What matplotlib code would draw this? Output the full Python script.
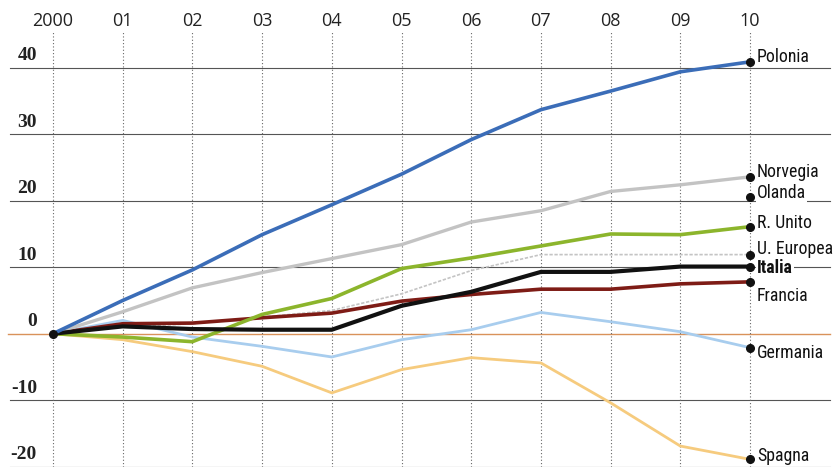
import matplotlib
matplotlib.use("Agg")
import matplotlib.pyplot as plt
import numpy as np

years = list(range(0, 11))
year_labels = ["2000", "01", "02", "03", "04", "05", "06", "07", "08", "09", "10"]
y_ticks = [40, 30, 20, 10, 0, -10, -20]

polonia = [0, 5.0, 9.6, 14.9, 19.4, 24.0, 29.2, 33.7, 36.5, 39.4, 40.9]
norvegia = [0, 3.3, 6.9, 9.2, 11.3, 13.4, 16.8, 18.5, 21.4, 22.4, 23.6]
olanda_end = 20.6
r_unito = [0, -0.5, -1.2, 2.9, 5.3, 9.8, 11.4, 13.2, 15.0, 14.9, 16.1]
u_europea = [0, 1.0, 1.5, 2.5, 3.5, 6.0, 9.5, 11.9, 11.9, 11.9, 11.9]
italia = [0, 1.1, 0.7, 0.6, 0.6, 4.2, 6.3, 9.3, 9.3, 10.1, 10.1]
francia = [0, 1.5, 1.6, 2.4, 3.1, 4.9, 5.9, 6.7, 6.7, 7.5, 7.8]
germania = [0, 2.0, -0.5, -1.9, -3.5, -0.9, 0.6, 3.2, 1.8, 0.3, -2.1]
spagna = [0, -0.9, -2.7, -4.9, -8.9, -5.4, -3.6, -4.4, -10.4, -16.9, -18.9]

fig = plt.figure(figsize=(8.33, 4.67), dpi=100)
ax = fig.add_axes([0, 0, 1, 1])
ax.set_xlim(-0.76, 11.19)
ax.set_ylim(-20.05, 50.2)
ax.axis("off")

label_family = ["Roboto Condensed", "Liberation Sans Narrow", "Roboto", "DejaVu Sans"]

# grid
for v in y_ticks:
    if v == 0:
        ax.plot([-0.65, 11.15], [0, 0], color="#d9925a", lw=1.0, zorder=1)
    else:
        ax.plot([-0.62, 11.15], [v, v], color="#555555", lw=0.8, zorder=1)
    ax.text(-0.23, v + 0.55, str(v), ha="right", va="bottom", fontsize=14,
            family="Liberation Serif", weight="bold", color="#222222")
for x, lab in zip(years, year_labels):
    ax.plot([x, x], [-20.05, 45.6], color="#666666", lw=0.8, ls=(0, (1, 2)), zorder=1)
    ax.text(x, 47.0, lab, ha="center", va="center", fontsize=13,
            family="Open Sans", color="#222222")

# series
ax.plot(years, spagna, color="#f6cb7e", lw=2.0, zorder=2)
ax.plot(years, germania, color="#a8cdee", lw=2.0, zorder=2)
ax.plot(years, u_europea, color="#c4c4c4", lw=1.2, ls=(0, (2, 1)), zorder=2)
ax.plot(years, francia, color="#7e1c16", lw=2.6, zorder=3)
ax.plot(years, r_unito, color="#8cb52c", lw=2.6, zorder=3)
ax.plot(years, norvegia, color="#c3c3c3", lw=2.4, zorder=3)
ax.plot(years, italia, color="#111111", lw=3.0, zorder=4)
ax.plot(years, polonia, color="#3b6db8", lw=2.6, zorder=4)

# end points & labels
ends = [
    ("Polonia", polonia[-1], 0.8, "normal"),
    ("Norvegia", norvegia[-1], 0.8, "normal"),
    ("Olanda", olanda_end, 0.5, "normal"),
    ("R. Unito", r_unito[-1], 0.5, "normal"),
    ("U. Europea", u_europea[-1], 0.9, "normal"),
    ("Italia", italia[-1], -0.2, "bold"),
    ("Francia", francia[-1], -2.1, "normal"),
    ("Germania", germania[-1], -0.8, "normal"),
    ("Spagna", spagna[-1], 0.5, "normal"),
]
for name, val, dy, w in ends:
    ax.plot(10, val, "o", color="#111111", ms=5.5, zorder=6)
    ax.text(10.1, val + dy, name, ha="left", va="center", fontsize=12.8,
            family=label_family, weight=w,
            color="#111111", zorder=7,
            bbox=dict(facecolor="white", edgecolor="none", pad=0.5))
ax.plot(0, 0, "o", color="#111111", ms=5.5, zorder=6)

fig.savefig("out.png", dpi=100)
